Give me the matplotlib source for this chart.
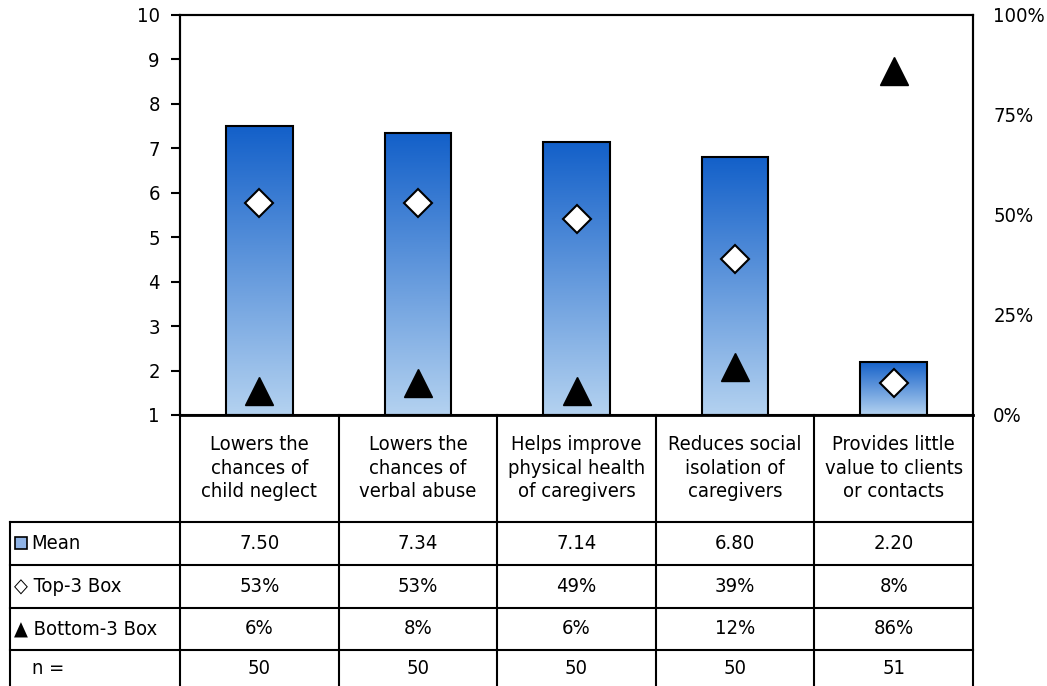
import numpy as np
import matplotlib.pyplot as plt
import matplotlib.transforms as mtransforms
from matplotlib.colors import LinearSegmentedColormap
from matplotlib.patches import Rectangle

# Data
categories = ["Lowers the\nchances of\nchild neglect",
              "Lowers the\nchances of\nverbal abuse",
              "Helps improve\nphysical health\nof caregivers",
              "Reduces social\nisolation of\ncaregivers",
              "Provides little\nvalue to clients\nor contacts"]
mean_scores = [7.50, 7.34, 7.14, 6.80, 2.20]
top3_box = [53, 53, 49, 39, 8]
bottom3_box = [6, 8, 6, 12, 86]
n_counts = [50, 50, 50, 50, 51]
row_labels = ["Mean", "\u25C7 Top-3 Box", "\u25B2 Bottom-3 Box", "n ="]

plt.rcParams['font.family'] = ['DejaVu Sans']
plt.rcParams['font.stretch'] = 'condensed'
FS = 14.5

W, H = 1047, 686
fig = plt.figure(figsize=(W / 100, H / 100), dpi=100)
fx = lambda p: p / W
fy = lambda p: 1 - p / H

ax = fig.add_axes([fx(180), fy(415), fx(973) - fx(180), fy(15) - fy(415)])
x = np.arange(len(categories))

# Bars with vertical gradient
cmap = LinearSegmentedColormap.from_list('blu', ['#b4d2f0', '#1360c9'])
bars = ax.bar(x, np.array(mean_scores) - 1, bottom=1, width=0.42,
              facecolor='none', edgecolor='black', linewidth=1.5, zorder=3)
grad = np.linspace(1, 0, 256).reshape(-1, 1)
for b in bars:
    x0, y0 = b.get_x(), b.get_y()
    ax.imshow(grad, cmap=cmap, extent=[x0, x0 + b.get_width(), y0, y0 + b.get_height()],
              aspect='auto', origin='upper', zorder=2)

ax.set_xlim(-0.5, len(categories) - 0.5)
ax.set_ylim(1, 10)
ax.set_yticks(range(1, 11))
ax.set_xticks([])
ax.tick_params(axis='y', direction='out', length=6.5, width=1.5, pad=8, labelsize=FS)
for s in ax.spines.values():
    s.set_linewidth(1.5)
ax.spines['bottom'].set_linewidth(2)

# Percent markers on secondary axis
ax2 = ax.twinx()
ax2.set_ylim(0, 100)
ax2.plot(x, top3_box, 'D', ms=14, mfc='white', mec='black', mew=1.5, ls='none', zorder=4)
ax2.plot(x, bottom3_box, '^', ms=20, mfc='black', mec='black', ls='none', zorder=4)
ax2.set_yticks([0, 25, 50, 75, 100])
ax2.set_yticklabels([f'{v}%' for v in [0, 25, 50, 75, 100]])
ax2.tick_params(axis='y', length=0, pad=14.5, labelsize=FS)
for s in ax2.spines.values():
    s.set_linewidth(1.5)

# Data table below the chart
trans = mtransforms.blended_transform_factory(ax.transData, fig.transFigure)
lw = 1.5
edges = list(x - 0.5) + [x[-1] + 0.5]
for e in edges:
    ax.plot([e, e], [fy(415), fy(686)], transform=trans, color='black', lw=lw, clip_on=False)
x_right = ax.get_position().x1
row_lines = [522, 565, 608, 650]
for r in row_lines:
    fig.add_artist(plt.Line2D([fx(10), x_right], [fy(r), fy(r)], color='black', lw=lw))
fig.add_artist(plt.Line2D([fx(10), fx(10)], [fy(522), fy(686)], color='black', lw=lw))

for i, c in enumerate(categories):
    ax.text(x[i], fy(468), c, transform=trans, ha='center', va='center',
            fontsize=FS, linespacing=1.3)

row_centers = [543.5, 586.5, 629, 668]
rows = [[f'{v:.2f}' for v in mean_scores],
        [f'{v}%' for v in top3_box],
        [f'{v}%' for v in bottom3_box],
        [str(v) for v in n_counts]]
for yc, vals in zip(row_centers, rows):
    for i, v in enumerate(vals):
        ax.text(x[i], fy(yc), v, transform=trans, ha='center', va='center', fontsize=FS)

# Row headers
fig.add_artist(Rectangle((fx(15), fy(549)), fx(12), 12 / H, transform=fig.transFigure,
                         facecolor='#8fb3e6', edgecolor='black', lw=1.2))
fig.text(fx(31), fy(row_centers[0]), row_labels[0], ha='left', va='center', fontsize=FS)
fig.text(fx(14), fy(row_centers[1]), row_labels[1], ha='left', va='center', fontsize=FS)
fig.text(fx(14), fy(row_centers[2]), row_labels[2], ha='left', va='center', fontsize=FS)
fig.text(fx(32), fy(row_centers[3]), row_labels[3], ha='left', va='center', fontsize=FS)

fig.savefig('out.png', dpi=100)
